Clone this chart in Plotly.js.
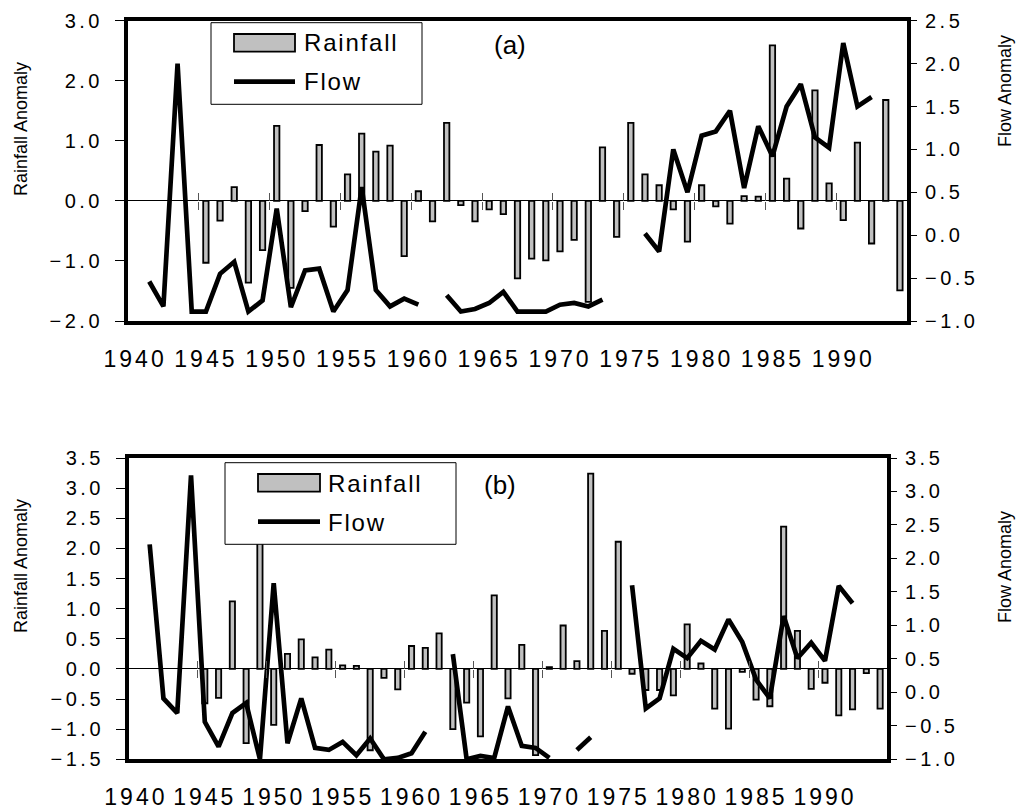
<!DOCTYPE html>
<html>
<head>
<meta charset="utf-8">
<script src="https://cdn.plot.ly/plotly-3.0.1.min.js"></script>
<style>
html,body{margin:0;padding:0;background:#ffffff;}
#chart{width:1025px;height:811px;}
</style>
</head>
<body>
<div id="chart"></div>
<script>
// ---------------- data ----------------
const years = [1940,1941,1942,1943,1944,1945,1946,1947,1948,1949,
               1950,1951,1952,1953,1954,1955,1956,1957,1958,1959,
               1960,1961,1962,1963,1964,1965,1966,1967,1968,1969,
               1970,1971,1972,1973,1974,1975,1976,1977,1978,1979,
               1980,1981,1982,1983,1984,1985,1986,1987,1988,1989,
               1990,1991,1992,1993,1994];

// panel (a)
const rainfallA = [null,null,null,null,null,-1.03,-0.33,0.23,-1.36,-0.82,
                   1.25,-1.45,-0.17,0.93,-0.43,0.44,1.12,0.82,0.92,-0.92,
                   0.16,-0.34,1.30,-0.07,-0.34,-0.14,-0.22,-1.29,-0.96,-0.99,
                   -0.84,-0.65,-1.68,0.89,-0.60,1.30,0.44,0.26,-0.14,-0.68,
                   0.26,-0.09,-0.38,0.08,0.07,2.59,0.37,-0.46,1.84,0.29,
                   -0.32,0.97,-0.71,1.68,-1.49];
const flowA = [null,-0.54,-0.83,2.00,-0.89,-0.89,-0.45,-0.31,-0.89,-0.76,
               0.31,-0.84,-0.41,-0.39,-0.89,-0.64,0.56,-0.64,-0.83,-0.74,
               -0.81,null,-0.70,-0.89,-0.86,-0.79,-0.66,-0.89,-0.89,-0.89,
               -0.81,-0.79,-0.83,-0.75,null,null,0.02,-0.19,1.00,0.50,
               1.16,1.21,1.45,0.55,1.27,0.92,1.50,1.76,1.14,1.02,
               2.24,1.50,1.61,null,null];

// panel (b)
const rainfallB = [null,null,null,null,null,-0.57,-0.48,1.12,-1.23,2.40,
                   -0.93,0.25,0.49,0.19,0.32,0.06,0.05,-1.35,-0.15,-0.34,
                   0.38,0.35,0.59,-1.00,-0.56,-1.12,1.22,-0.49,0.40,-1.43,
                   0.03,0.72,0.13,3.24,0.63,2.11,-0.08,-0.35,-0.35,-0.44,
                   0.74,0.09,-0.66,-0.99,-0.05,-0.51,-0.62,2.36,0.63,-0.33,
                   -0.23,-0.77,-0.67,-0.07,-0.66];
const flowB = [null,2.21,-0.09,-0.31,3.24,-0.44,-0.81,-0.31,-0.16,-1.00,
               1.63,-0.76,-0.09,-0.83,-0.86,-0.74,-0.94,-0.69,-1.00,-0.98,
               -0.91,-0.59,null,0.57,-1.00,-0.95,-0.98,-0.21,-0.80,-0.83,
               -0.98,null,-0.86,-0.67,null,null,1.60,-0.24,-0.09,0.65,
               0.51,0.77,0.64,1.09,0.75,0.19,-0.09,1.14,0.51,0.74,
               0.47,1.59,1.33,null,null];

// tick labels
const yearTickVals = [1940,1945,1950,1955,1960,1965,1970,1975,1980,1985,1990];
const yearTickText = ['1940','1945','1950','1955','1960','1965','1970','1975','1980','1985','1990'];
const boundaryTickVals = [1944.5,1949.5,1954.5,1959.5,1964.5,1969.5,1974.5,1979.5,1984.5,1989.5];

// ---------------- layout helpers ----------------
const W = 1025, H = 811;
const px = v => v / W;
const py = v => 1 - v / H;
const FONT = 'Liberation Sans, Arial, Helvetica, sans-serif';
const xRange = [1939.5, 1994.5];

const domA = {x: [px(128), px(907)], y: [py(321), py(20.7)]};
const domB = {x: [px(129), px(887)], y: [py(759.3), py(458)]};
const yRangeA = [-2, 3], y2RangeA = [-1, 2.5];
const yRangeB = [-1.5, 3.5], y2RangeB = [-1, 3.5];
const zeroPos = (dom, r) => dom.y[0] + (0 - r[0]) / (r[1] - r[0]) * (dom.y[1] - dom.y[0]);

const barStyle = {color: '#c0c0c0', line: {color: '#000000', width: 1.8}};
const lineStyle = {color: '#000000', width: 4.7};

const data = [
  {type: 'bar', name: 'Rainfall', x: years, y: rainfallA, xaxis: 'x', yaxis: 'y',
   marker: barStyle, showlegend: false, hoverinfo: 'skip'},
  {type: 'scatter', mode: 'lines', name: 'Flow', x: years, y: flowA, xaxis: 'x', yaxis: 'y2',
   line: lineStyle, connectgaps: false, showlegend: false, hoverinfo: 'skip'},
  {type: 'bar', name: 'Rainfall', x: years, y: rainfallB, xaxis: 'x2', yaxis: 'y3',
   marker: barStyle, showlegend: false, hoverinfo: 'skip'},
  {type: 'scatter', mode: 'lines', name: 'Flow', x: years, y: flowB, xaxis: 'x2', yaxis: 'y4',
   line: lineStyle, connectgaps: false, showlegend: false, hoverinfo: 'skip'},
  // carriers for the category tick marks drawn on the zero lines
  {type: 'scatter', mode: 'lines', x: [null], y: [null], xaxis: 'x3', yaxis: 'y', showlegend: false, hoverinfo: 'skip'},
  {type: 'scatter', mode: 'lines', x: [null], y: [null], xaxis: 'x4', yaxis: 'y', showlegend: false, hoverinfo: 'skip'},
  {type: 'scatter', mode: 'lines', x: [null], y: [null], xaxis: 'x5', yaxis: 'y3', showlegend: false, hoverinfo: 'skip'},
  {type: 'scatter', mode: 'lines', x: [null], y: [null], xaxis: 'x6', yaxis: 'y3', showlegend: false, hoverinfo: 'skip'}
];

const tickFontX = {family: FONT, size: 23, color: '#000000'};
const tickFontY = {family: FONT, size: 20, color: '#000000'};

function bottomAxis(dom, anchor) {
  return {domain: dom.x, anchor: anchor, range: xRange, showline: true, linewidth: 4,
          linecolor: '#000000', mirror: true, ticks: '', tickvals: yearTickVals,
          ticktext: yearTickText, tickfont: tickFontX, showgrid: false, zeroline: false,
          ticklabelstandoff: 14, fixedrange: true};
}
function leftAxis(dom, anchor, r, dtick) {
  return {domain: dom.y, anchor: anchor, range: r, tick0: r[0], dtick: dtick, tickformat: '.1f',
          ticks: 'outside', ticklen: 9, tickwidth: 1, tickcolor: '#000000',
          showline: true, linewidth: 4, linecolor: '#000000', mirror: true,
          zeroline: true, zerolinecolor: '#000000', zerolinewidth: 1,
          showgrid: false, tickfont: tickFontY, ticklabelstandoff: 8, fixedrange: true};
}
function rightAxis(over, anchor, r) {
  return {overlaying: over, side: 'right', anchor: anchor, range: r, tick0: r[0], dtick: 0.5,
          tickformat: '.1f', ticks: 'outside', ticklen: 9, tickwidth: 1, tickcolor: '#000000',
          showline: false, zeroline: false, showgrid: false, tickfont: tickFontY,
          ticklabelstandoff: 4, fixedrange: true};
}
function zeroTickAxis(over, pos, side) {
  return {overlaying: over, anchor: 'free', position: pos, side: side, range: xRange,
          tickvals: boundaryTickVals, ticks: 'outside', ticklen: 8, tickwidth: 1,
          tickcolor: '#555555', showticklabels: false, showline: false, showgrid: false,
          zeroline: false, fixedrange: true};
}

const posA = zeroPos(domA, yRangeA);
const posB = zeroPos(domB, yRangeB);

// legend drawn in the same style as the original (boxed, wide swatches)
function legendShapes(box, sw, lineY) {
  return [
    {type: 'rect', xref: 'paper', yref: 'paper', layer: 'above',
     x0: px(box[0]), x1: px(box[1]), y0: py(box[3]), y1: py(box[2]),
     fillcolor: '#ffffff', line: {color: '#000000', width: 1}},
    {type: 'rect', xref: 'paper', yref: 'paper', layer: 'above',
     x0: px(sw[0]), x1: px(sw[1]), y0: py(sw[3]), y1: py(sw[2]),
     fillcolor: '#c0c0c0', line: {color: '#000000', width: 1.8}},
    {type: 'line', xref: 'paper', yref: 'paper', layer: 'above',
     x0: px(sw[0]), x1: px(sw[1]), y0: py(lineY), y1: py(lineY),
     line: {color: '#000000', width: 4.7}}
  ];
}
function legendTexts(x, y1, y2) {
  const f = {family: FONT, size: 24, color: '#000000'};
  return [
    {text: 'Rainfall', xref: 'paper', yref: 'paper', x: px(x), y: py(y1), xanchor: 'left',
     yanchor: 'middle', align: 'left', showarrow: false, font: f},
    {text: 'Flow', xref: 'paper', yref: 'paper', x: px(x), y: py(y2), xanchor: 'left',
     yanchor: 'middle', align: 'left', showarrow: false, font: f}
  ];
}
function vTitle(text, x, y) {
  return {text: text, xref: 'paper', yref: 'paper', x: px(x), y: py(y), textangle: -90,
          xanchor: 'center', yanchor: 'middle', showarrow: false,
          font: {family: FONT, size: 18, color: '#000000'}};
}

const layout = {
  width: W, height: H,
  margin: {l: 0, r: 0, t: 0, b: 0, pad: 0},
  paper_bgcolor: '#ffffff', plot_bgcolor: '#ffffff',
  showlegend: false,
  bargap: 0.62,
  font: {family: FONT, color: '#000000'},
  xaxis: bottomAxis(domA, 'y'),
  yaxis: leftAxis(domA, 'x', yRangeA, 1),
  yaxis2: rightAxis('y', 'x', y2RangeA),
  xaxis2: bottomAxis(domB, 'y3'),
  yaxis3: leftAxis(domB, 'x2', yRangeB, 0.5),
  yaxis4: rightAxis('y3', 'x2', y2RangeB),
  xaxis3: zeroTickAxis('x', posA, 'bottom'),
  xaxis4: zeroTickAxis('x', posA, 'top'),
  xaxis5: zeroTickAxis('x2', posB, 'bottom'),
  xaxis6: zeroTickAxis('x2', posB, 'top'),
  shapes: [].concat(
    legendShapes([211, 422, 22.7, 104.3], [234, 295, 34, 51.7], 81.7),
    legendShapes([225, 456, 462.7, 544.3], [258, 320, 474, 491.7], 521.7)
  ),
  annotations: [].concat(
    legendTexts(302, 43, 81),
    legendTexts(326, 483, 522),
    [
      {text: '(a)', xref: 'paper', yref: 'paper', x: px(510), y: py(45), xanchor: 'center',
       yanchor: 'middle', showarrow: false, font: {family: FONT, size: 26, color: '#000000'}},
      {text: '(b)', xref: 'paper', yref: 'paper', x: px(500), y: py(485), xanchor: 'center',
       yanchor: 'middle', showarrow: false, font: {family: FONT, size: 26, color: '#000000'}},
      vTitle('Rainfall Anomaly', 21, 129),
      vTitle('Flow Anomaly', 1005, 91),
      vTitle('Rainfall Anomaly', 21, 566),
      vTitle('Flow Anomaly', 1005, 567)
    ]
  )
};

Plotly.newPlot('chart', data, layout, {displayModeBar: false, responsive: false}).then(function (gd) {
  // the original's lettering is set wide; widen the tracking of the printed labels
  gd.querySelectorAll('.xtick text, .x2tick text').forEach(function (t) { t.style.letterSpacing = '3px'; });
  gd.querySelectorAll('.ytick text, .y2tick text, .y3tick text, .y4tick text').forEach(function (t) { t.style.letterSpacing = '3.5px'; });
  gd.querySelectorAll('.annotation-text').forEach(function (t) {
    const s = t.textContent;
    if (s === 'Rainfall' || s === 'Flow') t.style.letterSpacing = '1.8px';
  });
});
</script>
</body>
</html>
